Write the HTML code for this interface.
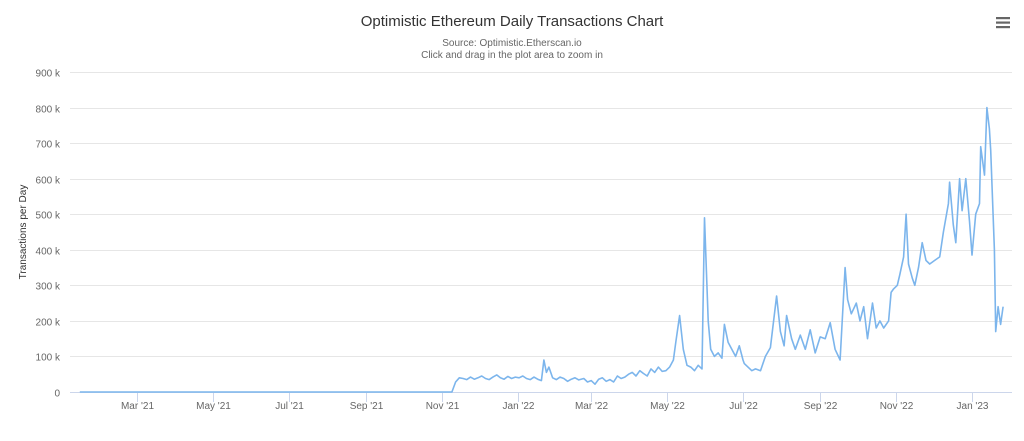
<!DOCTYPE html>
<html><head><meta charset="utf-8"><style>
html,body{margin:0;padding:0;background:#fff;}
svg{display:block;font-family:"Liberation Sans",sans-serif;}
</style></head><body>
<svg id="chart" width="1024" height="441" viewBox="0 0 1024 441">
<text x="512" y="26" text-anchor="middle" font-size="15" fill="#333">Optimistic Ethereum Daily Transactions Chart</text>
<text x="512" y="46" text-anchor="middle" font-size="10" fill="#666">Source: Optimistic.Etherscan.io</text>
<text x="512" y="58" text-anchor="middle" font-size="10" fill="#666">Click and drag in the plot area to zoom in</text>
<g>
<rect x="996" y="17" width="14" height="2.2" fill="#666"/><rect x="996" y="21.5" width="14" height="2.2" fill="#666"/><rect x="996" y="26" width="14" height="2.2" fill="#666"/>
</g>
<text transform="translate(26,232) rotate(-90)" text-anchor="middle" font-size="10" fill="#333">Transactions per Day</text>
<g id="grid"></g><g id="yticks"></g><g id="xticks"></g><g id="series"></g>
</svg>
<script>
const yTickValues=[0,100,200,300,400,500,600,700,800,900];
const xTickLabels=["Mar '21","May '21","Jul '21","Sep '21","Nov '21","Jan '22","Mar '22","May '22","Jul '22","Sep '22","Nov '22","Jan '23"];
const xTickDays=[59,120,181,243,304,365,424,485,546,608,669,730];
const days=[13,312,315,318,321,324,327,330,333,336,339,342,345,348,351,354,357,360,363,366,369,372,375,378,381,384,386,388,390,393,396,399,402,405,408,411,414,418,421,424,427,430,433,436,439,442,445,448,451,454,457,460,463,466,469,472,475,478,481,484,487,490,492,495,498,501,504,507,510,513,515,518,520,523,526,529,531,534,537,540,543,546,
547,553,556,560,564,568,573,576,579,581,585,588,592,596,600,604,608,612,616,620,624,628,630,633,637,640,643,646,650,653,656,659,663,665,667,670,672,675,677,679,682,684,687,690,693,696,700,704,707,711,712,715,717,720,722,725,728,730,733,736,737,740,742,744,745,748,749,751,753,755];
const txK=[0,0,28,40,38,35,42,36,40,45,38,35,42,48,40,36,44,38,42,40,45,38,35,42,36,32,90,55,70,40,35,42,38,30,36,40,34,38,28,32,22,36,40,30,35,28,45,38,42,50,55,45,60,52,45,65,55,70,58,60,70,90,140,215,120,75,70,60,75,65,490,200,120,100,110,95,190,140,120,100,130,90,
80,60,65,60,100,125,270,170,130,215,150,120,160,120,175,110,155,150,195,120,90,350,260,220,250,200,240,150,250,180,200,180,200,280,290,300,330,380,500,360,320,300,350,420,370,360,370,380,450,530,590,470,420,600,510,600,480,385,500,530,690,610,800,740,680,400,170,240,190,240];
const svg=document.getElementById('chart');
const NS='http://www.w3.org/2000/svg';
const L=70,R=1012,T=72,B=392;
function xScale(d){return 63.6+d*1.2444;}
function yScale(v){return B-(v/900)*(B-T);}
function mk(tag,attrs,parent){const e=document.createElementNS(NS,tag);for(const k in attrs)e.setAttribute(k,attrs[k]);parent.appendChild(e);return e;}
const grid=document.getElementById('grid'),yt=document.getElementById('yticks'),xt=document.getElementById('xticks'),ser=document.getElementById('series');
yTickValues.forEach(v=>{
 const y=Math.round(yScale(v))+0.5;
 const ln=mk('line',{x1:L,x2:R,y1:y,y2:y,stroke:'#e6e6e6','stroke-width':1},grid);
 
 
 const t=mk('text',{x:60,y:y+4,'text-anchor':'end','font-size':10,fill:'#666'},yt);
 t.textContent=v===0?'0':v+' k';
 
 
});
const ax=mk('line',{x1:L,x2:R,y1:B+0.5,y2:B+0.5,stroke:'#ccd6eb','stroke-width':1},xt);


xTickLabels.forEach((lab,i)=>{
 const x=Math.round(xScale(xTickDays[i]))+0.5;
 const tk=mk('line',{x1:x,x2:x,y1:B,y2:B+10,stroke:'#ccd6eb'},xt);
 
 
 const t=mk('text',{x:x,y:409,'text-anchor':'middle','font-size':10,fill:'#666'},xt);
 t.textContent=lab;
 
 
});
const pts=days.map((d,i)=>xScale(d).toFixed(1)+','+yScale(txK[i]).toFixed(1)).join(' ');
const pl=mk('polyline',{points:pts,fill:'none',stroke:'#7cb5ec','stroke-width':1.6,'stroke-linejoin':'round'},ser);


</script>
</body></html>
